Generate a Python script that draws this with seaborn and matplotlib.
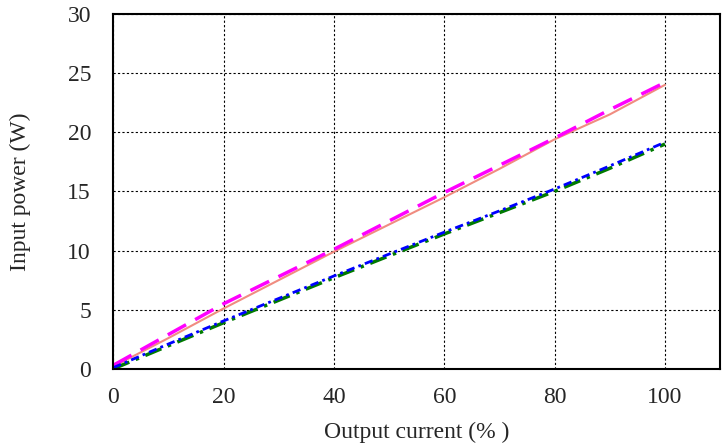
import pandas as pd
import matplotlib.pyplot as plt
import seaborn as sns

# Data
current = [0, 10, 20, 30, 40, 50, 60, 70, 80, 90, 100]
power_a = [0.2, 2.6, 5.1, 7.5, 9.9, 12.2, 14.5, 16.9, 19.4, 21.5, 24.0]   # salmon solid
power_b = [0.3, 2.9, 5.5, 7.8, 10.1, 12.5, 14.9, 17.2, 19.5, 21.9, 24.2]  # magenta dashed
power_c = [0.0, 1.95, 3.9, 5.8, 7.7, 9.55, 11.4, 13.2, 15.0, 16.95, 19.0]  # green dash-dot
power_d = [0.1, 2.1, 4.05, 5.95, 7.85, 9.7, 11.55, 13.35, 15.2, 17.15, 19.15]  # blue dotted

sns.set_style("white")
plt.rcParams['font.family'] = ['Liberation Serif', 'DejaVu Serif']

df = pd.DataFrame({'x': current, 'a': power_a, 'b': power_b,
                   'c': power_c, 'd': power_d})

fig, ax = plt.subplots(figsize=(7.26, 4.46), dpi=100)
sns.lineplot(data=df, x='x', y='a', color='#f08c80', linewidth=1.5, ax=ax)
sns.lineplot(data=df, x='x', y='b', color='#ff00ff', linewidth=2.5,
             linestyle=(0, (6, 3)), ax=ax)
sns.lineplot(data=df, x='x', y='c', color='#007a00', linewidth=2.5,
             linestyle=(0, (5, 2, 1, 2)), ax=ax)
sns.lineplot(data=df, x='x', y='d', color='#0000ff', linewidth=2.0,
             linestyle=(0, (3, 1.5, 1, 1.5)), ax=ax)

ax.set_xlim(0, 110)
ax.set_ylim(0, 30)
ax.set_xticks([0, 20, 40, 60, 80, 100])
ax.set_yticks([0, 5, 10, 15, 20, 25, 30])
ax.grid(True, color='black', linestyle=(0, (2, 2)), linewidth=0.8)
for s in ax.spines.values():
    s.set_visible(True)
    s.set_color('black')
    s.set_linewidth(1.5)
ax.tick_params(labelsize=17, length=0)
ax.tick_params(axis='y', pad=16)
ax.tick_params(axis='x', pad=13)
ax.set_xlabel('Output current (% )', fontsize=17, labelpad=10)
ax.set_ylabel('Input power (W)', fontsize=17, labelpad=26)

plt.subplots_adjust(left=0.156, right=0.992, top=0.969, bottom=0.173)
plt.savefig('out.png')
